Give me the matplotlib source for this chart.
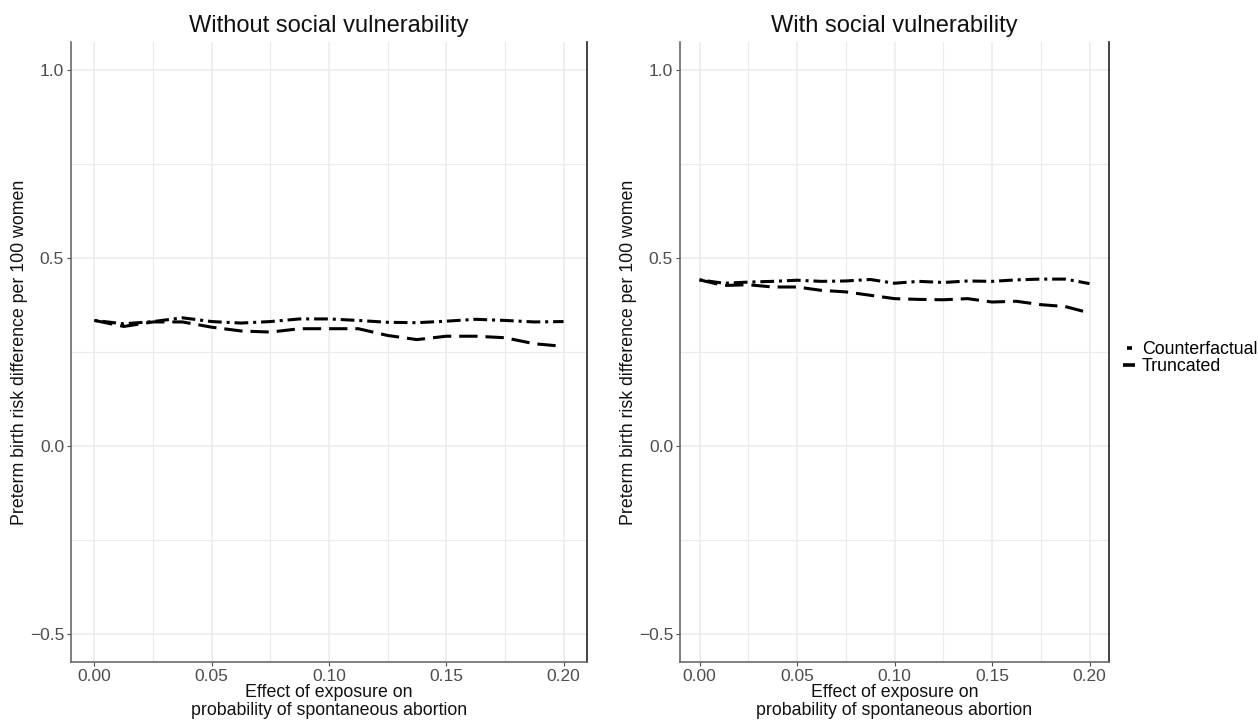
import numpy as np
import matplotlib.pyplot as plt
from matplotlib.lines import Line2D

plt.rcParams['font.family'] = ['Liberation Sans', 'DejaVu Sans']

# exposure effect grid (x axis)
effect = [0.0, 0.0125, 0.025, 0.0375, 0.05, 0.0625, 0.075, 0.0875, 0.10,
          0.1125, 0.125, 0.1375, 0.15, 0.1625, 0.175, 0.1875, 0.20]

# without social vulnerability
cf_without = [0.334, 0.325, 0.331, 0.341, 0.331, 0.327, 0.331, 0.338, 0.338,
              0.334, 0.329, 0.328, 0.332, 0.337, 0.334, 0.330, 0.331]
tr_without = [0.334, 0.318, 0.330, 0.330, 0.316, 0.306, 0.303, 0.312, 0.312,
              0.312, 0.294, 0.283, 0.292, 0.292, 0.288, 0.272, 0.265]

# with social vulnerability
cf_with = [0.442, 0.433, 0.436, 0.438, 0.441, 0.438, 0.439, 0.443, 0.433,
           0.438, 0.435, 0.439, 0.438, 0.442, 0.444, 0.444, 0.432]
tr_with = [0.442, 0.427, 0.429, 0.423, 0.423, 0.414, 0.410, 0.401, 0.392,
           0.390, 0.389, 0.392, 0.383, 0.385, 0.376, 0.371, 0.354]

titles = ['Without social vulnerability', 'With social vulnerability']
series_names = ['Counterfactual', 'Truncated']
xticks = [0.00, 0.05, 0.10, 0.15, 0.20]
yticks = [-0.5, 0.0, 0.5, 1.0]

W, H = 1259, 721
fig = plt.figure(figsize=(W / 100, H / 100), dpi=100)
ax1 = fig.add_axes([71 / W, 1 - 662 / H, 516 / W, 620 / H])
ax2 = fig.add_axes([680 / W, 1 - 662 / H, 429 / W, 620 / H])

lw = 2.2
cf_dash = (1.0, 1.6, 4.5, 1.6)
tr_dash = (6.0, 2.6)
fs = 12.8

for ax, title, cf, tr in [(ax1, titles[0], cf_without, tr_without),
                          (ax2, titles[1], cf_with, tr_with)]:
    ax.plot(effect, cf, color='black', lw=lw, dashes=cf_dash)
    ax.plot(effect, tr, color='black', lw=lw, dashes=tr_dash)
    ax.set_xlim(-0.01, 0.21)
    ax.set_ylim(-0.575, 1.075)
    ax.set_xticks(xticks)
    ax.set_xticklabels(['%.2f' % v for v in xticks])
    ax.set_yticks(yticks)
    ax.set_yticklabels(['\u22120.5', '0.0', '0.5', '1.0'])
    ax.set_xticks(np.array(xticks[:-1]) + 0.025, minor=True)
    ax.set_yticks(np.array(yticks[:-1]) + 0.25, minor=True)
    ax.grid(which='major', color='#ebebeb', lw=1.1)
    ax.grid(which='minor', color='#ebebeb', lw=0.8)
    ax.set_axisbelow(True)
    ax.tick_params(which='major', colors='#4d4d4d', labelsize=12.5, length=3,
                   width=0.8, pad=2)
    ax.tick_params(which='minor', length=0)
    for s in ['left', 'bottom']:
        ax.spines[s].set_color('#6a6a6a')
        ax.spines[s].set_linewidth(1.2)
    ax.spines['right'].set_color('#222222')
    ax.spines['right'].set_linewidth(1.2)
    ax.spines['top'].set_visible(False)
    ax.set_title(title, fontsize=17, pad=7, color='#111111')
    ax.set_xlabel('Effect of exposure on\nprobability of spontaneous abortion',
                  fontsize=fs, linespacing=1.05, labelpad=0, color='#111111')
    ax.set_ylabel('Preterm birth risk difference per 100 women', fontsize=fs,
                  labelpad=1, color='#111111')

handles = [Line2D([], [], ls='none', marker='_', color='black', markersize=3.6, mew=2.6),
           Line2D([], [], ls='none', marker='_', color='black', markersize=8.6, mew=2.6)]
fig.legend(handles, series_names, loc='center left', bbox_to_anchor=(1123 / W, 1 - 358 / H),
           frameon=False, fontsize=fs, handlelength=0.7, handletextpad=0.35,
           labelspacing=0.0, borderpad=0, borderaxespad=0)

fig.savefig('out.png', dpi=100)
